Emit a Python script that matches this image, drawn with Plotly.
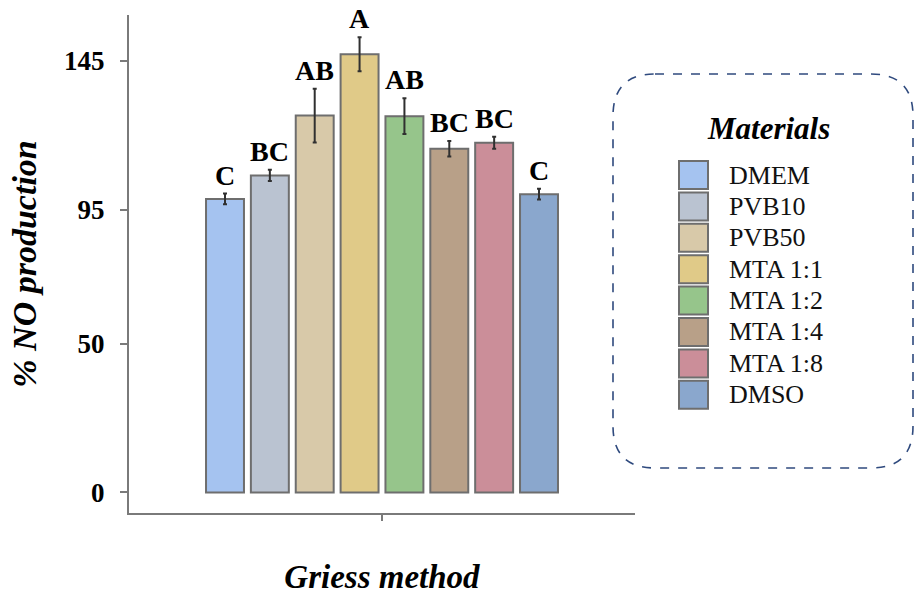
import numpy as np
import plotly.graph_objects as go

# ---- data -------------------------------------------------------------
materials = ["DMEM", "PVB10", "PVB50", "MTA 1:1", "MTA 1:2", "MTA 1:4", "MTA 1:8", "DMSO"]
no_production = [98.6, 106.5, 126.6, 147.2, 126.4, 115.5, 117.5, 100.2]
sd = [1.8, 1.9, 9.0, 5.7, 6.0, 2.6, 2.0, 1.8]
groups = ["C", "BC", "AB", "A", "AB", "BC", "BC", "C"]
y_ticks = [0, 50, 95, 145]

colors = ["#A5C3F0", "#BAC3D1", "#D8C9A9", "#E0CA88",
          "#96C58B", "#B8A088", "#CB8E99", "#8AA7CD"]

# ---- layout geometry (pixels) -----------------------------------------
W, H = 915, 596
ML, MR, MT, MB = 129, 280, 15, 83
PW, PH = W - ML - MR, H - MT - MB

SERIF = "Liberation Serif, Times New Roman, serif"
AXIS_GREY = "#7a7a7a"


def px(xp):
    return (xp - ML) / PW


def py(yp):
    return (H - MB - yp) / PH


pos = np.arange(len(materials))

fig = go.Figure()
fig.add_trace(go.Bar(
    x=pos,
    y=no_production,
    width=0.846,
    marker=dict(color=colors, line=dict(color="#6e6e6e", width=2)),
    error_y=dict(type="data", array=sd, visible=True,
                 color="#303030", thickness=2, width=2),
    showlegend=False,
    hoverinfo="skip",
))

# significance letters above each error bar
for x, v, e, g in zip(pos, no_production, sd, groups):
    fig.add_annotation(x=x, y=v + e, text=f"<b>{g}</b>", showarrow=False,
                       yanchor="bottom", yshift=1,
                       font=dict(family=SERIF, size=28, color="#000"))

# ---- legend panel -----------------------------------------------------
bx0, bx1, by0, by1, r = 613, 913, 74, 468, 42


def rounded_rect(x0, y0, x1, y1, rad):
    pts = [
        ("M", [(x0 + rad, y0)]),
        ("L", [(x1 - rad, y0)]),
        ("Q", [(x1, y0), (x1, y0 + rad)]),
        ("L", [(x1, y1 - rad)]),
        ("Q", [(x1, y1), (x1 - rad, y1)]),
        ("L", [(x0 + rad, y1)]),
        ("Q", [(x0, y1), (x0, y1 - rad)]),
        ("L", [(x0, y0 + rad)]),
        ("Q", [(x0, y0), (x0 + rad, y0)]),
    ]
    out = []
    for cmd, ps in pts:
        out.append(cmd + " ".join(f"{px(a):.5f},{py(b):.5f}" for a, b in ps))
    return " ".join(out) + " Z"


fig.add_shape(type="path", xref="paper", yref="paper",
              path=rounded_rect(bx0, by0, bx1, by1, r),
              line=dict(color="#2F4A7E", width=1.6, dash="dash"),
              fillcolor="rgba(0,0,0,0)", layer="above")

fig.add_annotation(xref="paper", yref="paper", x=px(768), y=py(128),
                   text="<b><i>Materials</i></b>", showarrow=False,
                   xanchor="center", yanchor="middle",
                   font=dict(family=SERIF, size=31, color="#000"))

for i, (name, c) in enumerate(zip(materials, colors)):
    cy = 175 + 31.4 * i
    fig.add_shape(type="rect", xref="paper", yref="paper",
                  x0=px(679), x1=px(708), y0=py(cy + 14), y1=py(cy - 14),
                  fillcolor=c, line=dict(color="#6e6e6e", width=2))
    fig.add_annotation(xref="paper", yref="paper", x=px(727), y=py(cy),
                       text=name, showarrow=False,
                       xanchor="left", yanchor="middle",
                       font=dict(family=SERIF, size=26, color="#111"))

# ---- axes -------------------------------------------------------------
fig.update_xaxes(
    range=[-2.14, 9.14],
    tickvals=[(len(materials) - 1) / 2], ticktext=[""],
    ticks="outside", ticklen=6, tickwidth=2, tickcolor=AXIS_GREY,
    showline=True, linecolor=AXIS_GREY, linewidth=2,
    showgrid=False, zeroline=False,
    title=dict(text="<b><i>Griess method</i></b>", standoff=42,
               font=dict(family=SERIF, size=33, color="#000")),
)
fig.update_yaxes(
    range=[-6.9, 160.4],
    tickvals=y_ticks,
    ticktext=[f"<b>{t}</b>" for t in y_ticks],
    ticks="outside", ticklen=7, tickwidth=2, tickcolor=AXIS_GREY,
    ticklabelstandoff=10,
    tickfont=dict(family=SERIF, size=27, color="#000"),
    showline=True, linecolor=AXIS_GREY, linewidth=2,
    showgrid=False, zeroline=False,
    title=dict(text="<b><i>% NO production</i></b>", standoff=17,
               font=dict(family=SERIF, size=34, color="#000")),
)

fig.update_layout(
    width=W, height=H,
    margin=dict(l=ML, r=MR, t=MT, b=MB, autoexpand=False),
    plot_bgcolor="white", paper_bgcolor="white",
    font=dict(family=SERIF),
)

fig.write_html("out.html")
